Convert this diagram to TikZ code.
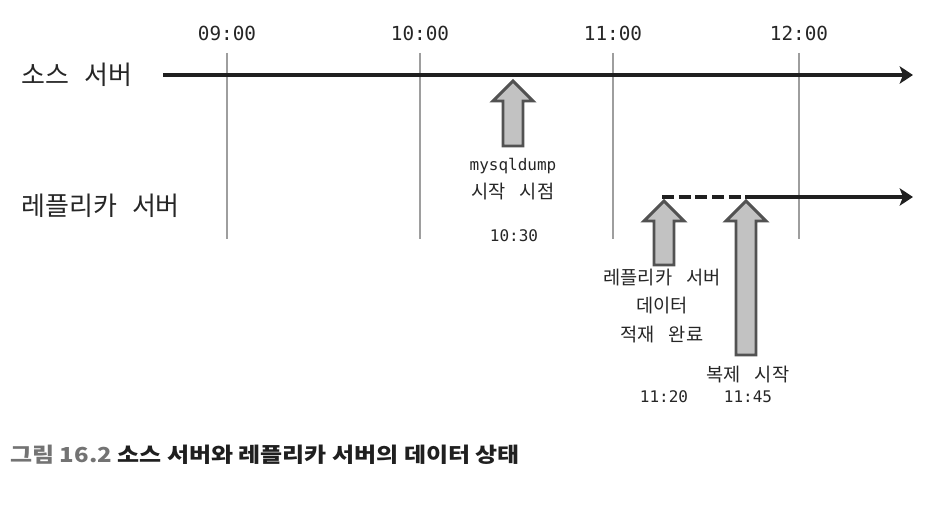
\documentclass[tikz,border=0pt]{standalone}
\usepackage{fontspec}
\setmainfont{Noto Sans CJK KR}[WordSpace=3.3]
\setmonofont{DejaVu Sans Mono}
\newfontfamily\rowfont{Noto Sans CJK KR}[WordSpace=2.6]
\newfontfamily\capfont{Noto Sans CJK KR}[FakeStretch=1.16]
\usetikzlibrary{arrows.meta, calc}

\begin{document}
\begin{tikzpicture}[x=0.75pt, y=-0.75pt,
  timeline/.style={line width=2.4pt, draw=black!88, -{Stealth[length=10pt, width=13pt, inset=2.5pt]}},
  waitline/.style={line width=2.4pt, draw=black!88, dash pattern=on 9pt off 3.5pt},
  gridline/.style={line width=1.5pt, draw=black!38},
  blockup/.style={line width=2.2pt, draw=black!68, fill=black!24, line join=miter},
  hour/.style={font=\ttfamily\fontsize{14.5}{16}\selectfont, text=black!85, inner sep=0},
  server/.style={font=\rowfont\fontsize{19.5}{22}\selectfont, text=black!85, inner sep=0, anchor=west},
  note/.style={font=\fontsize{14}{21.5}\selectfont, text=black!85, inner sep=0, align=center},
  stamp/.style={font=\ttfamily\fontsize{12}{14}\selectfont, text=black!85, inner sep=0}]
  \useasboundingbox (0,0) rectangle (938,506);

  % hours and grid
  \foreach \hx/\hname/\htext in {227/h9/09:00, 420/h10/10:00, 613/h11/11:00, 799/h12/12:00} {
    \node [hour] (\hname) at (\hx,33) {\htext};
    \draw [gridline] (\hx,53) -- (\hx,239);
  }

  % source server
  \node [server] (src) at (21,75) {소스 서버};
  \coordinate (srcstart) at (163,75);
  \coordinate (srcend) at (913,75);
  \draw [timeline] (srcstart) -- (srcend);

  % replica server
  \node [server] (rep) at (21,206) {레플리카 서버};
  \coordinate (repstart) at (662,197);
  \coordinate (repsync) at (750,197);
  \coordinate (repend) at (913,197);
  \draw [waitline] (repstart) -- (repsync);
  \draw [timeline] (repsync) -- (repend);

  % block arrows: x / tip / bottom
  \foreach \ax/\atip/\abot in {513/81/146, 664/201/265, 746/201/355} {
    \draw [blockup] (\ax-10,\abot) -- (\ax-10,\atip+20) -- (\ax-20,\atip+20) -- (\ax,\atip)
      -- (\ax+20,\atip+20) -- (\ax+10,\atip+20) -- (\ax+10,\abot) -- cycle;
  }

  \node [note] (dump) at (513,179) {{\ttfamily\fontsize{12}{14}\selectfont mysqldump}\\시작 시점};
  \node [stamp] (dumptime) at (514,236) {10:30};

  \node [note] (load) at (662,306) {레플리카 서버\\데이터\\적재 완료};
  \node [stamp] (loadtime) at (664,397) {11:20};

  \node [note] (sync) at (748,375) {복제 시작};
  \node [stamp] (synctime) at (748,397) {11:45};

  % caption
  \node [anchor=west, inner sep=0, text=black!88, font=\capfont\bfseries\fontsize{15.5}{18}\selectfont] (caption) at (10,455)
    {\textcolor{black!55}{그림 16.2} 소스 서버와 레플리카 서버의 데이터 상태};
\end{tikzpicture}
\end{document}
